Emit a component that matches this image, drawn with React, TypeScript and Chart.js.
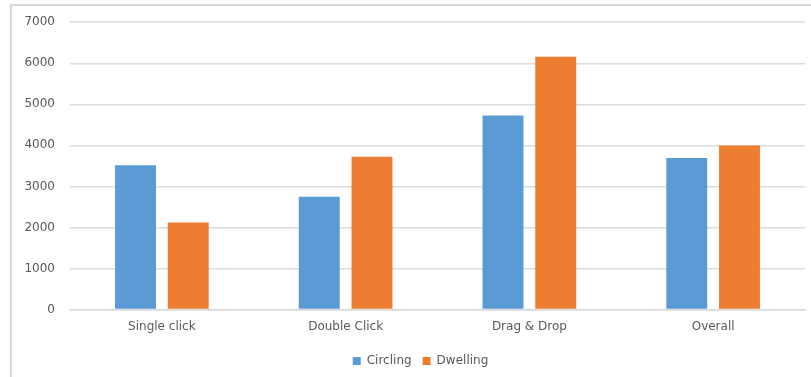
import React, { useEffect, useRef } from "react";
import { Chart, registerables } from "chart.js";

Chart.register(...registerables);

const categories = ["Single click", "Double Click", "Drag & Drop", "Overall"];
const circling = [3515, 2750, 4730, 3695];
const dwelling = [2120, 3725, 6160, 3995];
const yTicks = [0, 1000, 2000, 3000, 4000, 5000, 6000, 7000];

const FONT = "'DejaVu Sans', sans-serif";
const TEXT = "#595959";

const widenYAxisClip = {
  id: "widenYAxisClip",
  afterLayout(chart: any) {
    const y = chart.scales.y;
    if (y) y.left = 0;
  },
};

export default function App() {
  const ref = useRef<HTMLCanvasElement | null>(null);

  useEffect(() => {
    if (!ref.current) return;
    const chart = new Chart(ref.current, {
      type: "bar",
      data: {
        labels: categories,
        datasets: [
          {
            label: "Circling",
            data: circling,
            backgroundColor: "#5B9BD5",
            categoryPercentage: 0.574,
            barPercentage: 0.776,
          },
          {
            label: "Dwelling",
            data: dwelling,
            backgroundColor: "#ED7D31",
            categoryPercentage: 0.574,
            barPercentage: 0.776,
          },
        ],
      },
      plugins: [widenYAxisClip],
      options: {
        animation: false,
        responsive: false,
        maintainAspectRatio: false,
        layout: { padding: { left: 36, right: 6, top: 21, bottom: 0 } },
        plugins: {
          tooltip: { enabled: false },
          legend: {
            position: "bottom",
            labels: {
              boxWidth: 8,
              boxHeight: 8,
              padding: 11,
              color: TEXT,
              font: { family: FONT, size: 12 },
            },
          },
        },
        scales: {
          x: {
            grid: { display: false, drawTicks: false },
            border: { display: true, color: "#d9d9d9", width: 1.5 },
            ticks: {
              color: TEXT,
              font: { family: FONT, size: 12 },
              padding: 10,
              maxRotation: 0,
            },
          },
          y: {
            min: 0,
            max: 7000,
            afterFit: (s: any) => {
              s.width = 34;
            },
            afterBuildTicks: (s: any) => {
              s.ticks = yTicks.map((v) => ({ value: v }));
            },
            grid: { color: "#dcdcdc", lineWidth: 1.5, drawTicks: false },
            border: { display: false },
            ticks: {
              color: TEXT,
              font: { family: FONT, size: 12 },
              padding: 15,
              callback: (v: any) => String(v),
            },
          },
        },
      },
    });
    return () => chart.destroy();
  }, []);

  return (
    <div
      style={{
        position: "fixed",
        left: 0,
        top: 0,
        width: 811,
        height: 377,
        background: "#fff",
        overflow: "hidden",
      }}
    >
      <div
        style={{
          position: "absolute",
          left: 10,
          top: 4,
          width: 820,
          height: 400,
          borderLeft: "2px solid #d9d9d9",
          borderTop: "2px solid #d9d9d9",
        }}
      />
      <canvas
        ref={ref}
        width={811}
        height={377}
        style={{ position: "absolute", left: 0, top: 0, width: 811, height: 377 }}
      />
    </div>
  );
}
